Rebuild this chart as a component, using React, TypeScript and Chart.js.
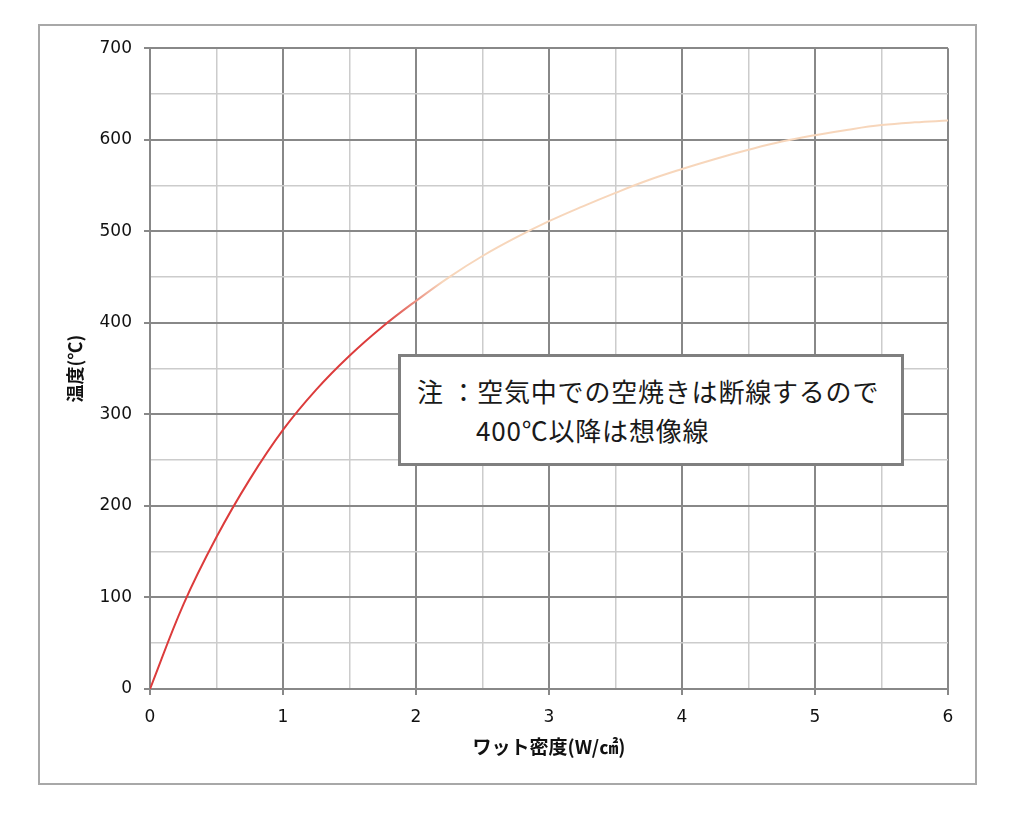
import { useEffect, useRef } from 'react';
import { Chart, registerables } from 'chart.js';

Chart.register(...registerables);

// ワット密度 (W/cm2) と温度 (℃)
const wattDensity = [0, 0.25, 0.5, 0.75, 1, 1.25, 1.5, 1.75, 2, 2.25, 2.5, 2.75, 3, 3.25, 3.5, 3.75, 4, 4.25, 4.5, 4.75, 5, 5.25, 5.5, 5.75, 6];
const temperature = [0, 92, 166, 229, 283, 327, 364, 396, 424, 450, 473, 493, 511, 527, 542, 556, 568, 579, 589, 598, 605, 611, 616, 619, 621];

// 実線 → 想像線 の切り替わり (W/cm2)
const solidUntil = 1.75;
const imaginaryFrom = 2.2;

const xTickStep = 0.5;
const yTickStep = 50;

const RED = '#dc3c3c';
const PEACH = '#f7d6bb';
const MAJOR = '#888888';
const MINOR = '#cccccc';

export default function App() {
  const canvasRef = useRef<HTMLCanvasElement>(null);

  useEffect(() => {
    const chart = new Chart(canvasRef.current!, {
      type: 'line',
      data: {
        datasets: [{
          data: wattDensity.map((x, i) => ({ x, y: temperature[i] })),
          borderWidth: 2,
          pointRadius: 0,
          tension: 0.4,
          borderColor: (ctx: any) => {
            const c = ctx.chart;
            if (!c.chartArea) return RED;
            const x1 = c.scales.x.getPixelForValue(solidUntil);
            const x2 = c.scales.x.getPixelForValue(imaginaryFrom);
            const g = c.ctx.createLinearGradient(x1, 0, x2, 0);
            g.addColorStop(0, RED);
            g.addColorStop(1, PEACH);
            return g;
          },
        }],
      },
      options: {
        animation: false,
        responsive: true,
        maintainAspectRatio: false,
        layout: { padding: { top: 21, right: 27, left: 0, bottom: 0 } },
        plugins: { legend: { display: false }, tooltip: { enabled: false } },
        scales: {
          x: {
            type: 'linear',
            min: 0,
            max: 6,
            afterFit: (s: any) => { s.height = 94; },
            border: { color: MAJOR, width: 2 },
            grid: {
              color: (c: any) => (c.tick && c.tick.value % 1 === 0 ? MAJOR : MINOR),
              lineWidth: (c: any) => (c.tick && c.tick.value % 1 === 0 ? 2 : 1.5),
              tickColor: (c: any) => (c.tick && c.tick.value % 1 === 0 ? MAJOR : 'rgba(0,0,0,0)'),
              tickLength: 6,
            },
            ticks: {
              stepSize: xTickStep,
              padding: 12,
              maxRotation: 0,
              autoSkip: false,
              color: '#111',
              font: { family: "'DejaVu Sans', sans-serif", size: 17 },
              callback: (v: any) => (v % 1 === 0 ? String(v) : ''),
            },
            title: {
              display: true,
              text: 'ワット密度(W/㎠)',
              color: '#111',
              font: { family: "'Noto Sans CJK JP', sans-serif", size: 19, weight: 'bold' },
              padding: { top: 0, bottom: 25 },
            },
          },
          y: {
            min: 0,
            max: 700,
            afterFit: (s: any) => { s.width = 110; },
            border: { color: MAJOR, width: 2 },
            grid: {
              color: (c: any) => (c.tick && c.tick.value % 100 === 0 ? MAJOR : MINOR),
              lineWidth: (c: any) => (c.tick && c.tick.value % 100 === 0 ? 2 : 1.5),
              tickColor: (c: any) => (c.tick && c.tick.value % 100 === 0 ? MAJOR : 'rgba(0,0,0,0)'),
              tickLength: 6,
            },
            ticks: {
              stepSize: yTickStep,
              padding: 12,
              autoSkip: false,
              color: '#111',
              font: { family: "'DejaVu Sans', sans-serif", size: 17 },
              callback: (v: any) => (v % 100 === 0 ? String(v) : ''),
            },
            title: {
              display: true,
              text: '温度(℃)',
              color: '#111',
              font: { family: "'Noto Sans CJK JP', sans-serif", size: 18, weight: 'bold' },
              padding: { top: 24, bottom: 0 },
            },
          },
        },
      },
    });
    return () => chart.destroy();
  }, []);

  return (
    <div style={{ position: 'relative', width: 1004, height: 800, background: '#fff' }}>
      <div style={{
        position: 'absolute', left: 30, top: 16, width: 939, height: 761,
        border: '2px solid #a8a8a8', boxSizing: 'border-box',
      }}>
        <div style={{ position: 'relative', width: 935, height: 757 }}>
          <canvas ref={canvasRef} />
        </div>
      </div>
      <div style={{
        position: 'absolute', left: 390, top: 346, width: 506, height: 112,
        border: '3px solid #7f7f7f', boxSizing: 'border-box', background: '#fff',
        padding: '14px 0 0 16px',
        fontFamily: "'Noto Sans CJK JP', sans-serif", fontSize: 26, lineHeight: '39px',
        letterSpacing: '0.8px', color: '#1a1a1a', whiteSpace: 'nowrap',
      }}>
        <div>注 ：空気中での空焼きは断線するので</div>
        <div style={{ marginLeft: 59 }}>400℃以降は想像線</div>
      </div>
    </div>
  );
}
